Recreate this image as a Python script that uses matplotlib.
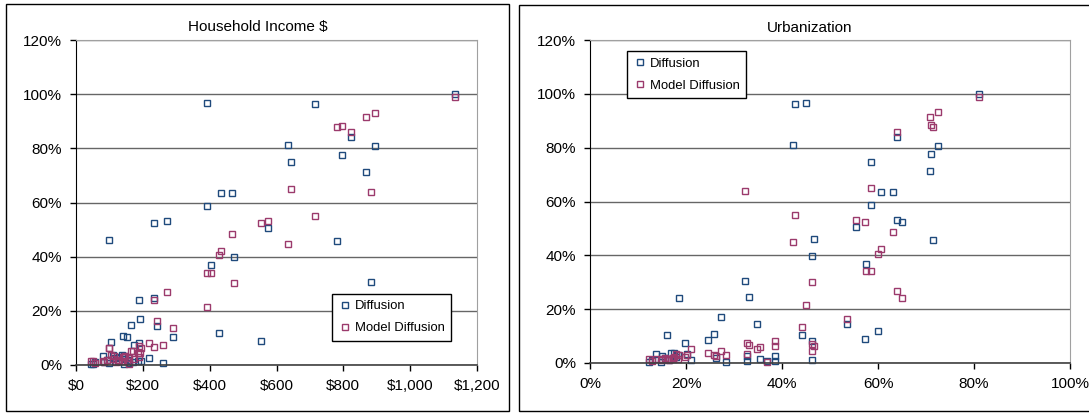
import matplotlib.pyplot as plt
from matplotlib.patches import Rectangle
from matplotlib.ticker import FuncFormatter, MultipleLocator

plt.rcParams['font.family'] = ['Liberation Sans', 'DejaVu Sans']

# one entry per country: income ($), urbanization (%), observed and model diffusion (%)
income = [1133, 714, 391, 633, 894, 823, 795, 643, 869, 434, 466, 391, 233, 271,
          574, 781, 472, 404, 884, 242, 429, 553,
          44, 80, 50, 120, 152, 83, 137, 110, 128, 190, 174, 145, 106, 140, 158,
          193, 143, 115, 261, 233, 164, 194, 158, 218, 100, 289, 190, 186, 99,
          58, 92, 125, 148, 170]
urbanization = [81.0, 42.7, 44.9, 42.2, 72.6, 63.9, 71.1, 58.5, 70.8, 60.7, 63.1,
                58.5, 65.1, 63.9, 55.5, 71.5, 46.3, 57.5, 32.3, 53.5, 60.0, 57.3,
                12.3, 13.75, 14.8, 15.0, 16.1, 16.5, 16.8, 17.5, 18.4, 18.5, 19.7,
                20.2, 24.6, 25.9, 26.3, 27.2, 28.3, 32.8, 32.8, 33.2, 34.7, 35.4,
                36.9, 38.6, 38.6, 44.2, 46.3, 46.3, 46.6,
                13.0, 15.6, 17.2, 18.0, 21.0]
diffusion = [99.9, 96.2, 96.6, 81.1, 80.8, 84.1, 77.6, 74.8, 71.2, 63.5, 63.6,
             58.7, 52.5, 53.0, 50.5, 45.7, 39.7, 36.9, 30.5, 14.5, 11.9, 9.0,
             0.5, 3.4, 0.4, 2.6, 10.5, 1.1, 3.8, 3.8, 3.0, 24.0, 7.4, 3.3, 8.4,
             10.6, 2.0, 17.1, 0.5, 2.5, 0.8, 24.6, 14.6, 1.4, 0.9, 2.5, 0.7,
             10.5, 8.3, 1.3, 46.2,
             1.2, 2.0, 1.5, 2.2, 1.0]
model_diffusion = [98.8, 55.1, 21.4, 44.8, 93.1, 86.0, 88.3, 65.1, 91.5, 42.2, 48.5,
                   34.1, 24.1, 26.9, 53.3, 87.8, 30.1, 34.1, 63.9, 16.2, 40.6, 52.3,
                   1.4, 1.6, 1.6, 1.2, 1.5, 1.2, 1.5, 2.2, 1.6, 3.0, 2.4, 2.8, 3.6,
                   3.0, 2.5, 4.3, 3.0, 3.5, 7.4, 6.8, 5.1, 6.1, 0.3, 8.0, 6.4,
                   13.5, 7.2, 4.5, 6.4,
                   0.9, 1.8, 2.0, 3.2, 5.3]

blue = '#1f4a7c'
plum = '#9b3a6c'

fig = plt.figure(figsize=(10.89, 4.13), dpi=100)

# chart borders
fig.add_artist(Rectangle((6 / 1089, 2 / 413), 503 / 1089, 407 / 413,
                         transform=fig.transFigure, fill=False, ec='black', lw=1))
fig.add_artist(Rectangle((519 / 1089, 2 / 413), 580 / 1089, 406 / 413,
                         transform=fig.transFigure, fill=False, ec='black', lw=1))

ax1 = fig.add_axes([76 / 1089, 1 - 365 / 413, 401 / 1089, 325 / 413])
ax2 = fig.add_axes([590 / 1089, 1 - 363 / 413, 480 / 1089, 323 / 413])


def style(ax):
    ax.set_ylim(0, 120)
    ax.yaxis.set_major_locator(MultipleLocator(20))
    ax.yaxis.set_major_formatter(FuncFormatter(lambda v, p: f'{v:.0f}%'))
    ax.grid(axis='y', color='#666666', lw=1)
    ax.set_axisbelow(True)
    for s in ['top', 'right']:
        ax.spines[s].set_color('#a0a0a0')
    ax.spines['left'].set_color('black')
    ax.spines['bottom'].set_color('#404040')
    ax.spines['bottom'].set_linewidth(1.2)
    ax.tick_params(direction='out', length=4, width=1, labelsize=11, pad=6)


def draw(ax, x):
    ax.plot(x, diffusion, ls='none', marker='s', ms=4.3, mfc='none', mec=blue,
            mew=1, label='Diffusion', clip_on=False)
    ax.plot(x, model_diffusion, ls='none', marker='s', ms=4.3, mfc='none', mec=plum,
            mew=1, label='Model Diffusion', clip_on=False)


draw(ax1, income)
style(ax1)
ax1.set_xlim(0, 1200)
ax1.xaxis.set_major_locator(MultipleLocator(200))
ax1.xaxis.set_major_formatter(FuncFormatter(lambda v, p: f'${v:,.0f}'))
leg1 = ax1.legend(loc='upper left', bbox_to_anchor=(0.638, 0.22), borderaxespad=0,
                  fontsize=9.4, fancybox=False, framealpha=1, edgecolor='black',
                  borderpad=0.5, handlelength=1.0, handletextpad=0.25, labelspacing=0.75)
leg1.get_frame().set_linewidth(1)

draw(ax2, urbanization)
style(ax2)
ax2.set_xlim(0, 100)
ax2.xaxis.set_major_locator(MultipleLocator(20))
ax2.xaxis.set_major_formatter(FuncFormatter(lambda v, p: f'{v:.0f}%'))
leg2 = ax2.legend(loc='upper left', bbox_to_anchor=(0.077, 0.966), borderaxespad=0,
                  fontsize=9.4, fancybox=False, framealpha=1, edgecolor='black',
                  borderpad=0.5, handlelength=1.0, handletextpad=0.25, labelspacing=0.75)
leg2.get_frame().set_linewidth(1)

fig.text(258 / 1089, 1 - 27 / 413, 'Household Income $', ha='center', va='center', fontsize=11)
fig.text(810 / 1089, 1 - 28 / 413, 'Urbanization', ha='center', va='center', fontsize=11)

fig.savefig('out.png', dpi=100)
